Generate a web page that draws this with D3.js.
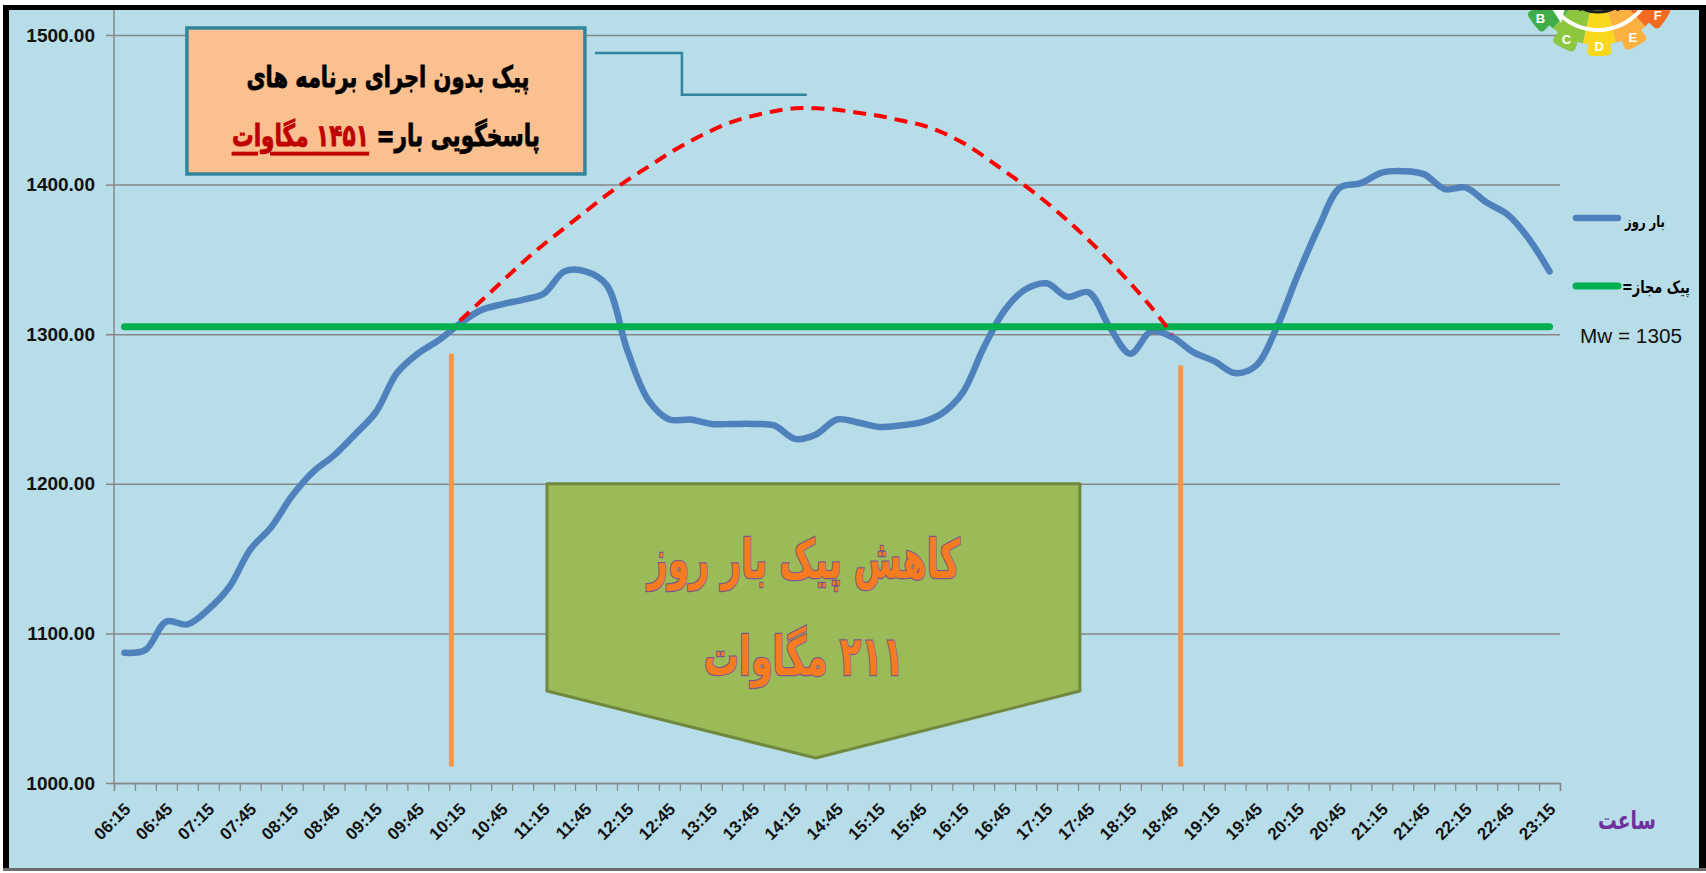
<!DOCTYPE html>
<html><head><meta charset="utf-8">
<script src="https://cdn.jsdelivr.net/npm/d3@7"></script>
<style>body{margin:0;background:#fff;} svg{display:block;}</style>
</head><body>
<svg id="c" width="1706" height="873"></svg>
<script>
// ---------- DATA ----------
const times = ["06:15","06:30","06:45","07:00","07:15","07:30","07:45","08:00","08:15","08:30","08:45","09:00","09:15","09:30","09:45","10:00","10:15","10:30","10:45","11:00","11:15","11:30","11:45","12:00","12:15","12:30","12:45","13:00","13:15","13:30","13:45","14:00","14:15","14:30","14:45","15:00","15:15","15:30","15:45","16:00","16:15","16:30","16:45","17:00","17:15","17:30","17:45","18:00","18:15","18:30","18:45","19:00","19:15","19:30","19:45","20:00","20:15","20:30","20:45","21:00","21:15","21:30","21:45","22:00","22:15","22:30","22:45","23:00","23:15"];
// بار روز (daily load, MW)
const dayLoad = [1087,1089,1108,1106,1116,1131,1156,1171,1192,1208,1219,1233,1248,1274,1287,1296,1307,1316,1320,1323,1327,1342,1342,1333,1289,1256,1243,1243,1240,1240,1240,1239,1230,1233,1243,1241,1238,1239,1241,1247,1261,1291,1316,1330,1334,1325,1328,1305,1287,1302,1298,1288,1282,1274,1279,1305,1340,1372,1398,1401,1408,1409,1407,1397,1398,1388,1380,1364,1342];
// peak without demand response programmes (dashed), from 10:15 to 18:45
const noDRStart = "10:15";
const noDRLoad = [1309,1322,1335,1348,1360,1371,1382,1393,1403,1412,1421,1429,1436,1442,1446,1449,1451,1451,1450,1448,1446,1443,1440,1435,1428,1419,1409,1399,1388,1376,1363,1349,1334,1318,1300];
// پیک مجاز (allowed peak)
const allowedPeak = 1305;
const allowedSeries = times.map(() => allowedPeak);
const yTicks = [1000,1100,1200,1300,1400,1500];
const xLabelTimes = times.filter((d,i) => i % 2 === 0);

// ---------- LAYOUT ----------
const svg = d3.select("#c");
const W = 1706, H = 873;
const pL = 114, pR = 1560, pT = 35, pB = 783;
const x = d3.scaleBand().domain(times).range([pL, pR]).padding(0);
const step = x.bandwidth();
const cx = t => x(t) + step / 2;
const X = idx => pL + step * (idx + 0.5);          // fractional category index -> px
const y = d3.scaleLinear().domain([1000, 1500]).range([pB, pT]);
const LAT = "'Liberation Sans', Arial, sans-serif";
const FA = "'DejaVu Sans', sans-serif";

const defs = svg.append("defs");
defs.append("clipPath").attr("id","logoClip").append("rect").attr("x",1500).attr("y",10).attr("width",199).attr("height",70);

// background
svg.append("rect").attr("x",0).attr("y",0).attr("width",W).attr("height",H).attr("fill","#fff");
svg.append("rect").attr("x",6).attr("y",7).attr("width",1697).attr("height",862).attr("fill","#b7dde8");

// gridlines
svg.append("g").attr("transform",`translate(${pL},0)`)
  .call(d3.axisLeft(y).tickValues(yTicks).tickSize(-(pR-pL)).tickFormat(""))
  .call(g => g.select(".domain").remove())
  .call(g => g.selectAll("line").attr("stroke","#878787").attr("stroke-width",1.5));

// y axis
const ya = svg.append("g").attr("transform",`translate(${pL},0)`)
  .call(d3.axisLeft(y).tickValues(yTicks).tickFormat(d3.format(".2f")).tickSize(8).tickPadding(11));
ya.select(".domain").remove();
ya.selectAll("line").attr("stroke","#878787").attr("stroke-width",1.5);
ya.selectAll("text").attr("font-family",LAT).attr("font-weight","bold").attr("font-size",19).attr("fill","#111");
svg.append("line").attr("x1",pL).attr("x2",pL).attr("y1",10).attr("y2",pB).attr("stroke","#878787").attr("stroke-width",1.5);

// x axis: tick marks at category boundaries
const xb = d3.scaleLinear().domain([0, times.length]).range([pL, pR]);
const xt = svg.append("g").attr("transform",`translate(0,${pB})`)
  .call(d3.axisBottom(xb).tickValues(d3.range(times.length + 1)).tickSize(8).tickFormat(""));
xt.select(".domain").attr("stroke","#878787").attr("stroke-width",1.5);
xt.selectAll("line").attr("stroke","#878787").attr("stroke-width",1.2);
// x labels
const xl = svg.append("g").attr("transform",`translate(0,${pB})`)
  .call(d3.axisBottom(x).tickValues(xLabelTimes).tickSize(0));
xl.select(".domain").remove();
xl.selectAll("text").attr("x",0).attr("y",0).attr("dy","0.35em").attr("text-anchor","end")
  .attr("transform","translate(3,23) rotate(-45)")
  .attr("font-family",LAT).attr("font-weight","bold").attr("font-size",17).attr("fill","#111");

// ---------- SERIES ----------
const smooth = d3.line().x(d => cx(d.t)).y(d => y(d.v)).curve(d3.curveCatmullRom.alpha(0.5));
svg.append("path").datum(times.map((t,i) => ({t, v: dayLoad[i]})))
  .attr("d", smooth).attr("fill","none").attr("stroke","#4f81bd").attr("stroke-width",6.5)
  .attr("stroke-linecap","round").attr("stroke-linejoin","round");
svg.append("path").datum(times.map((t,i) => ({t, v: allowedSeries[i]})))
  .attr("d", d3.line().x(d => cx(d.t)).y(d => y(d.v))).attr("fill","none")
  .attr("stroke","#00b050").attr("stroke-width",7).attr("stroke-linecap","round");
const s0 = times.indexOf(noDRStart);
svg.append("path").datum(noDRLoad.map((v,i) => ({t: times[s0 + i], v})))
  .attr("d", d3.line().x(d => cx(d.t)).y(d => y(d.v)).curve(d3.curveCatmullRom.alpha(0.5)))
  .attr("fill","none").attr("stroke","#ff0000").attr("stroke-width",4).attr("stroke-dasharray","13,8");

// ---------- ANNOTATIONS (in data coordinates) ----------
const markers = [{idx:15.6, from:1287, to:1011}, {idx:50.4, from:1279, to:1011}];
svg.selectAll(".mk").data(markers).join("line")
  .attr("x1", d => X(d.idx)).attr("x2", d => X(d.idx)).attr("y1", d => y(d.from)).attr("y2", d => y(d.to))
  .attr("stroke","#f79646").attr("stroke-width",5);

// leader line from the box to the dashed peak
const leader = [[22.45,1488],[26.6,1488],[26.6,1460],[32.56,1460]];
svg.append("path").attr("d", d3.line().x(d => X(d[0])).y(d => y(d[1]))(leader))
  .attr("fill","none").attr("stroke","#31859c").attr("stroke-width",2.5);

// orange box
const ob = {i0:2.98, i1:21.97, v0:1504.7, v1:1407.1};
svg.append("rect").attr("x",X(ob.i0)).attr("y",y(ob.v0)).attr("width",X(ob.i1)-X(ob.i0)).attr("height",y(ob.v1)-y(ob.v0))
  .attr("fill","#fac090").attr("stroke","#31859c").attr("stroke-width",3.5);
const obc = (X(ob.i0)+X(ob.i1))/2 + 2;

// Persian text: fitted to a width, stretched vertically to match the heavier reference face
function faText(cxp, cyp, w, k, size, fill, build) {
  const g = svg.append("g").attr("transform", `translate(${cxp},${cyp}) scale(1,${k})`);
  const t = g.append("text").attr("x",0).attr("y",0).attr("dominant-baseline","central")
    .attr("text-anchor","middle").attr("direction","rtl").attr("font-family",FA).attr("font-weight","bold")
    .attr("font-size",size).attr("fill",fill);
  build(t);
  const cur = t.node().getComputedTextLength();
  if (cur > 0) t.attr("font-size", size * w / cur);
  return t;
}
faText(obc, 77, 283, 1.4, 22, "#000", t => t.text("پیک بدون اجرای برنامه های"))
  .attr("stroke","#000").attr("stroke-width",0.6);
faText(obc - 2, 136, 308, 1.4, 22, "#000", t => {
  t.append("tspan").text("پاسخگویی بار= ");
  t.append("tspan").attr("fill","#c00000").attr("stroke","#c00000").style("text-decoration","underline").text("۱۴۵۱ مگاوات");
}).attr("stroke","#000").attr("stroke-width",0.6);

// green pentagon arrow
const gb = [[20.16,1200],[45.59,1200],[45.59,1061.5],[32.99,1016.7],[20.16,1061.5]];
svg.append("path").attr("d", d3.line().x(d => X(d[0])).y(d => y(d[1]))(gb) + "Z")
  .attr("fill","#9bbb59").attr("stroke","#71893f").attr("stroke-width",3).attr("stroke-linejoin","round");
const gbc = X(32.99) - 12;
[["کاهش پیک بار روز", 560, 312], ["۲۱۱ مگاوات", 657, 200]].forEach(([s, cyp, w]) => {
  faText(gbc, cyp, w, 1.55, 40, "#f47b20", t => t.text(s))
    .attr("stroke","#7d5a86").attr("stroke-width",1.6).attr("paint-order","stroke");
});

// ---------- LEGEND ----------
svg.append("line").attr("x1",1576).attr("x2",1618).attr("y1",218).attr("y2",218).attr("stroke","#4f81bd").attr("stroke-width",6.5).attr("stroke-linecap","round");
faText(1645, 221, 40, 1.35, 16, "#000", t => t.text("بار روز"));
svg.append("line").attr("x1",1576).attr("x2",1618).attr("y1",286).attr("y2",286).attr("stroke","#00b050").attr("stroke-width",7).attr("stroke-linecap","round");
faText(1656, 287, 68, 1.35, 16, "#000", t => t.text("پیک مجاز="));
const mw = svg.append("text").attr("x",1631).attr("y",335).attr("dominant-baseline","central").attr("text-anchor","middle")
  .attr("font-family",LAT).attr("font-size",21).attr("fill","#111").text("Mw = " + allowedPeak);
mw.attr("font-size", 21 * 102 / mw.node().getComputedTextLength());

// axis title
faText(1627, 820, 58, 1.35, 26, "#7030a0", t => t.text("ساعت"));

// ---------- LOGO ----------
const logo = svg.append("g").attr("clip-path","url(#logoClip)").append("g").attr("transform","translate(1598,-25)");
const deg = Math.PI / 180;
const segs = [
  {l:"F", a0:105, a1:137.5, a:124, c:"#f26b21"},
  {l:"E", a0:137.5, a1:165, a:151, c:"#fbb040"},
  {l:"D", a0:165, a1:192.5, a:179, c:"#f9d71c"},
  {l:"C", a0:192.5, a1:220, a:206, c:"#8dc63f"},
  {l:"B", a0:220, a1:252, a:233, c:"#3fae49"}];
const ring = d3.arc().innerRadius(38).outerRadius(70);
const tooth = d3.arc().innerRadius(60).outerRadius(81).cornerRadius(4);
segs.forEach(s => {
  logo.append("path").attr("d", ring({startAngle:s.a0*deg, endAngle:s.a1*deg})).attr("fill", s.c);
  logo.append("path").attr("d", tooth({startAngle:(s.a-9)*deg, endAngle:(s.a+9)*deg})).attr("fill", s.c);
  logo.append("text").attr("x", 72*Math.sin(s.a*deg)).attr("y", -72*Math.cos(s.a*deg)).attr("text-anchor","middle")
    .attr("dominant-baseline","central").attr("font-family",LAT).attr("font-weight","bold").attr("font-size",13)
    .attr("fill","#fff").text(s.l);
});
logo.append("circle").attr("r",37).attr("fill","#7ab648").attr("stroke","#1d1d1d").attr("stroke-width",3);
logo.append("path").attr("d","M-30,20 Q0,0 30,22 M-10,-10 L-18,36 M12,-10 L20,36").attr("stroke","#1d1d1d").attr("stroke-width",2.5).attr("fill","none");
logo.append("path").attr("d", d3.arc().innerRadius(53).outerRadius(57)({startAngle:125*deg, endAngle:222*deg})).attr("fill","#fff");
const ah = 225*deg;
const ahx = 55*Math.sin(ah), ahy = -55*Math.cos(ah);
logo.append("path").attr("d", `M${ahx-9},${ahy-8} L${ahx+6},${ahy-6} L${ahx+2},${ahy+9} Z`).attr("fill","#fff");

// ---------- FRAME ----------
svg.append("line").attr("x1",3).attr("x2",1706).attr("y1",7.5).attr("y2",7.5).attr("stroke","#000").attr("stroke-width",5);
svg.append("line").attr("x1",6).attr("x2",6).attr("y1",5).attr("y2",871).attr("stroke","#000").attr("stroke-width",6);
svg.append("line").attr("x1",1702.5).attr("x2",1702.5).attr("y1",5).attr("y2",871).attr("stroke","#000").attr("stroke-width",7);
svg.append("line").attr("x1",3).attr("x2",1706).attr("y1",869.5).attr("y2",869.5).attr("stroke","#6d6d6d").attr("stroke-width",3);
</script>
</body></html>
